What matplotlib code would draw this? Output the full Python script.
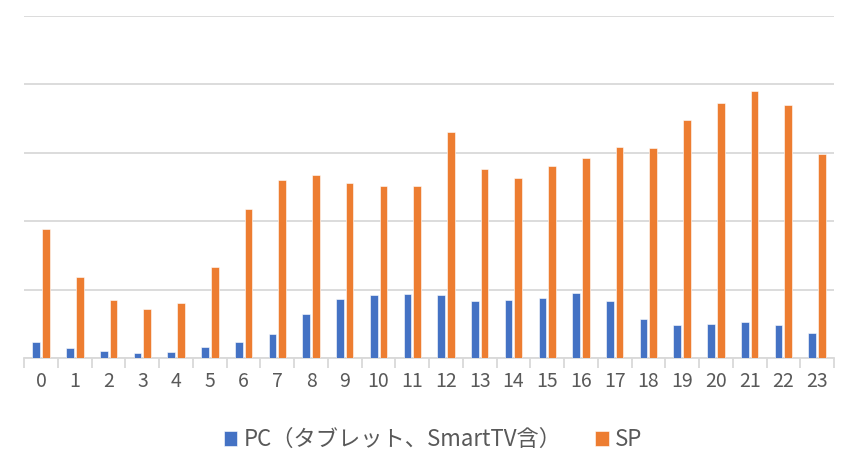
import numpy as np
import matplotlib
matplotlib.use("Agg")
import matplotlib.pyplot as plt
from matplotlib.ticker import FixedLocator

plt.rcParams["font.family"] = ["Noto Sans CJK JP", "DejaVu Sans"]

hours = [str(h) for h in range(24)]
pc = [0.233, 0.146, 0.102, 0.083, 0.092, 0.170, 0.233, 0.355, 0.647, 0.866, 0.919, 0.934,
      0.924, 0.837, 0.851, 0.875, 0.958, 0.837, 0.569, 0.486, 0.506, 0.525, 0.482, 0.375]
sp = [1.892, 1.192, 0.856, 0.715, 0.803, 1.338, 2.179, 2.602, 2.675, 2.554, 2.515, 2.520,
      3.298, 2.763, 2.631, 2.806, 2.918, 3.084, 3.064, 3.473, 3.721, 3.906, 3.701, 2.977]
labels = ["PC（タブレット、SmartTV含）", "SP"]
colors = ["#4472C4", "#ED7D31"]

fig = plt.figure(figsize=(8.43, 4.62), dpi=100)
ax = fig.add_axes([0.0288, 0.2245, 0.9605, 0.7415])

x = np.arange(len(hours))
w = 0.228
off = 0.144
ax.bar(x - off, pc, w, color=colors[0], edgecolor="white", linewidth=0.4, label=labels[0], zorder=3)
ax.bar(x + off, sp, w, color=colors[1], edgecolor="white", linewidth=0.4, label=labels[1], zorder=3)

ax.set_xlim(-0.5, 23.5)
ax.set_ylim(0, 5)
ax.set_yticks(np.arange(0, 6, 1))
ax.set_yticklabels([])
ax.tick_params(axis="y", length=0)
ax.grid(axis="y", color="#D9D9D9", linewidth=1.3, zorder=0)

ax.set_xticks(x)
ax.set_xticklabels(hours, fontsize=14, color="#595959")
ax.tick_params(axis="x", which="major", length=0, pad=9)
ax.xaxis.set_minor_locator(FixedLocator(np.arange(-0.5, 24, 1)))
ax.tick_params(axis="x", which="minor", length=7, width=1.3, color="#D9D9D9")

for s in ["top", "right", "left"]:
    ax.spines[s].set_visible(False)
ax.spines["bottom"].set_color("#D9D9D9")
ax.spines["bottom"].set_linewidth(1.3)

leg = fig.legend(loc="center", bbox_to_anchor=(0.514, 0.048), ncol=2, frameon=False,
                 fontsize=16, handlelength=0.6, handleheight=0.6, handletextpad=0.3,
                 columnspacing=1.5)
for t in leg.get_texts():
    t.set_color("#595959")

fig.savefig("out.png", dpi=100)
